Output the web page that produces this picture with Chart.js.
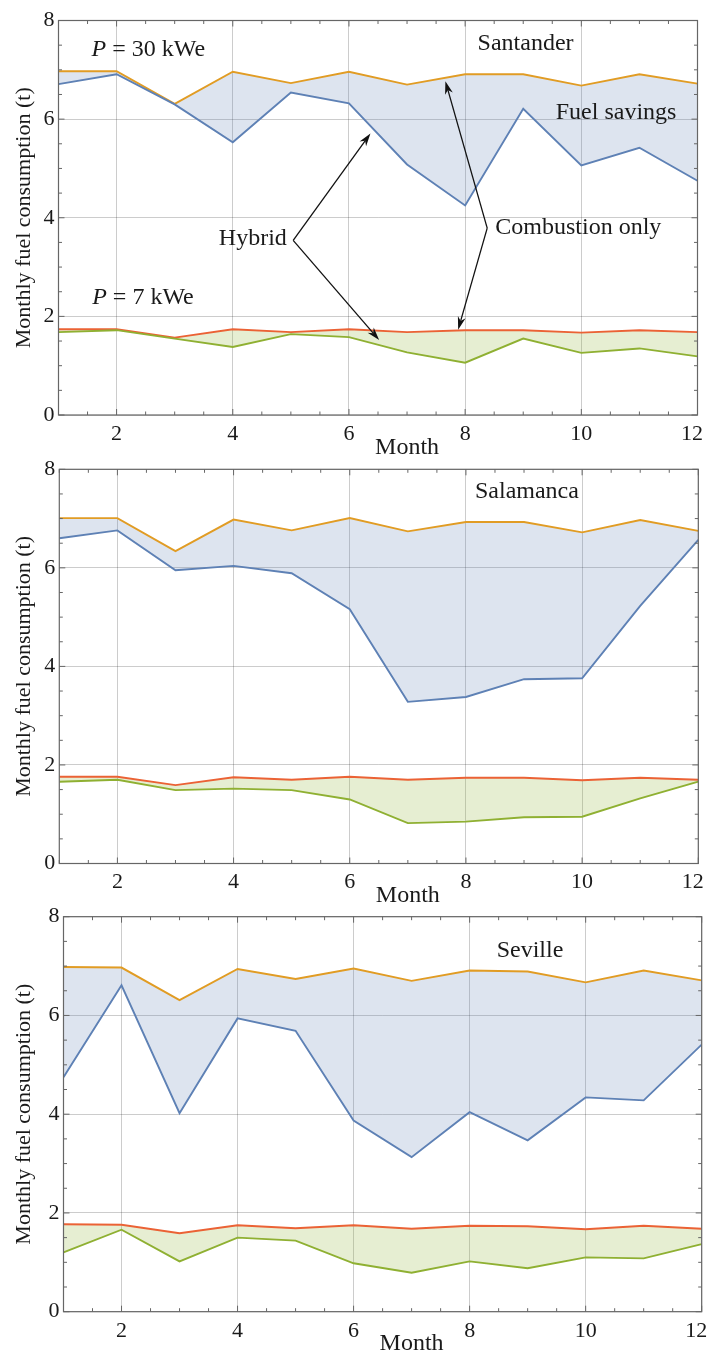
<!DOCTYPE html>
<html>
<head>
<meta charset="utf-8">
<script src="https://cdn.jsdelivr.net/npm/chart.js@4.4.1/dist/chart.umd.min.js"></script>
<style>
    body { margin: 0; background: #fff; width: 707px; height: 1358px; position: relative; overflow: hidden; }
    .panel { position: absolute; left: 0; width: 707px; height: 470px; }
</style>
</head>
<body>
<div class="panel" style="top:0px"><canvas id="santander" width="707" height="470"></canvas></div>
<div class="panel" style="top:450px"><canvas id="salamanca" width="707" height="470"></canvas></div>
<div class="panel" style="top:898px"><canvas id="seville" width="707" height="470"></canvas></div>
<script>
// months and axis ticks
var months = [1, 2, 3, 4, 5, 6, 7, 8, 9, 10, 11, 12];
var xTickValues = [2, 4, 6, 8, 10, 12];
var yTickValues = [0, 2, 4, 6, 8];

// Santander (t per month)
var santanderCombustion30 = [6.97, 6.97, 6.31, 6.96, 6.73, 6.96, 6.70, 6.91, 6.91, 6.68, 6.91, 6.72];
var santanderHybrid30     = [6.71, 6.91, 6.30, 5.53, 6.54, 6.32, 5.08, 4.25, 6.21, 5.06, 5.42, 4.75];
var santanderCombustion7  = [1.74, 1.74, 1.57, 1.74, 1.68, 1.74, 1.68, 1.72, 1.72, 1.67, 1.72, 1.68];
var santanderHybrid7      = [1.68, 1.72, 1.55, 1.38, 1.64, 1.58, 1.27, 1.06, 1.55, 1.26, 1.35, 1.19];

// Salamanca
var salamancaCombustion30 = [7.01, 7.01, 6.34, 6.98, 6.76, 7.01, 6.74, 6.93, 6.93, 6.72, 6.97, 6.75];
var salamancaHybrid30     = [6.60, 6.76, 5.95, 6.04, 5.89, 5.16, 3.28, 3.38, 3.74, 3.76, 5.23, 6.57];
var salamancaCombustion7  = [1.76, 1.76, 1.59, 1.75, 1.70, 1.76, 1.70, 1.74, 1.74, 1.69, 1.74, 1.70];
var salamancaHybrid7      = [1.66, 1.70, 1.49, 1.52, 1.49, 1.30, 0.82, 0.85, 0.94, 0.95, 1.32, 1.66];

// Seville
var sevilleCombustion30 = [6.98, 6.97, 6.31, 6.94, 6.74, 6.95, 6.70, 6.91, 6.89, 6.67, 6.91, 6.71];
var sevilleHybrid30     = [4.75, 6.61, 4.02, 5.94, 5.69, 3.87, 3.13, 4.04, 3.47, 4.34, 4.28, 5.41];
var sevilleCombustion7  = [1.77, 1.76, 1.59, 1.75, 1.69, 1.75, 1.68, 1.74, 1.73, 1.67, 1.74, 1.68];
var sevilleHybrid7      = [1.20, 1.66, 1.02, 1.50, 1.44, 0.98, 0.79, 1.02, 0.88, 1.10, 1.08, 1.37];

var FONT = "'Liberation Serif', 'Times New Roman', serif";
var TEXT = '#1a1a1a';
var FRAME = '#666666';
var GRID = 'rgba(0,0,0,0.2)';
var BLUE = '#5e81b5', ORANGE = '#e19c24', GREEN = '#8fb032', RED = '#eb6235';
var BLUE_FILL = 'rgba(94,129,181,0.21)';
var GREEN_FILL = 'rgba(143,176,50,0.22)';

function points(values) {
    return months.map(function (m, i) { return { x: m, y: values[i] }; });
}

// frame with inward major/minor ticks on all four sides
var framePlugin = {
    id: 'frame',
    afterDatasetsDraw: function (chart) {
        var ctx = chart.ctx, a = chart.chartArea, x = chart.scales.x, y = chart.scales.y;
        ctx.save();
        ctx.strokeStyle = FRAME;
        ctx.lineWidth = 1;
        ctx.beginPath();
        for (var v = x.min; v <= x.max; v += 0.5) {
            var px = x.getPixelForValue(v);
            var len = xTickValues.indexOf(v) >= 0 ? 6 : 3.5;
            ctx.moveTo(px, a.bottom); ctx.lineTo(px, a.bottom - len);
            ctx.moveTo(px, a.top); ctx.lineTo(px, a.top + len);
        }
        for (var w = y.min; w <= y.max; w += 0.5) {
            var py = y.getPixelForValue(w);
            var l2 = yTickValues.indexOf(w) >= 0 ? 6 : 3.5;
            ctx.moveTo(a.left, py); ctx.lineTo(a.left + l2, py);
            ctx.moveTo(a.right, py); ctx.lineTo(a.right - l2, py);
        }
        ctx.stroke();
        ctx.lineWidth = 1.2;
        ctx.strokeRect(a.left, a.top, a.right - a.left, a.bottom - a.top);
        ctx.restore();
    }
};

function drawArrow(ctx, x0, y0, x1, y1) {
    var ang = Math.atan2(y1 - y0, x1 - x0), hl = 13, hw = 4;
    var c = Math.cos(ang), s = Math.sin(ang);
    ctx.beginPath();
    ctx.moveTo(x0, y0);
    ctx.lineTo(x1 - c * hl * 0.7, y1 - s * hl * 0.7);
    ctx.stroke();
    ctx.beginPath();
    ctx.moveTo(x1, y1);
    ctx.lineTo(x1 - c * hl - s * hw, y1 - s * hl + c * hw);
    ctx.lineTo(x1 - c * hl * 0.7, y1 - s * hl * 0.7);
    ctx.lineTo(x1 - c * hl + s * hw, y1 - s * hl - c * hw);
    ctx.closePath();
    ctx.fill();
}

// text labels and arrows placed in data coordinates
function notesPlugin(notes) {
    return {
        id: 'notes',
        afterDraw: function (chart) {
            var ctx = chart.ctx, x = chart.scales.x, y = chart.scales.y, a = chart.chartArea;
            ctx.save();
            ctx.fillStyle = TEXT;
            ctx.strokeStyle = '#111';
            ctx.textBaseline = 'alphabetic';

            // x-axis title
            ctx.font = '24px ' + FONT;
            ctx.textAlign = 'center';
            ctx.fillText('Month', x.getPixelForValue(7), a.bottom + 38.5);

            notes.texts.forEach(function (t) {
                var px = x.getPixelForValue(t.x), py = y.getPixelForValue(t.y);
                var parts = t.parts || [{ s: t.text }];
                var widths = parts.map(function (p) {
                    ctx.font = (p.italic ? 'italic ' : '') + '24px ' + FONT;
                    return ctx.measureText(p.s).width;
                });
                var total = widths.reduce(function (s, w) { return s + w; }, 0);
                var start = t.align === 'center' ? px - total / 2 : (t.align === 'right' ? px - total : px);
                ctx.textAlign = 'left';
                parts.forEach(function (p, i) {
                    ctx.font = (p.italic ? 'italic ' : '') + '24px ' + FONT;
                    ctx.fillText(p.s, start, py);
                    start += widths[i];
                });
            });

            ctx.fillStyle = '#111';
            ctx.lineWidth = 1.3;
            notes.arrows.forEach(function (ar) {
                drawArrow(ctx, x.getPixelForValue(ar[0]), y.getPixelForValue(ar[1]),
                    x.getPixelForValue(ar[2]), y.getPixelForValue(ar[3]));
            });
            ctx.restore();
        }
    };
}

function makePanel(id, combustion30, hybrid30, combustion7, hybrid7, box, notes) {
    var line = { borderWidth: 1.9, pointRadius: 0, tension: 0 };
    return new Chart(document.getElementById(id), {
        type: 'line',
        data: {
            datasets: [
                Object.assign({ label: 'Hybrid 30 kWe', data: points(hybrid30), borderColor: BLUE, fill: false }, line),
                Object.assign({ label: 'Combustion 30 kWe', data: points(combustion30), borderColor: ORANGE,
                    backgroundColor: BLUE_FILL, fill: '-1' }, line),
                Object.assign({ label: 'Hybrid 7 kWe', data: points(hybrid7), borderColor: GREEN, fill: false }, line),
                Object.assign({ label: 'Combustion 7 kWe', data: points(combustion7), borderColor: RED,
                    backgroundColor: GREEN_FILL, fill: '-1' }, line)
            ]
        },
        options: {
            responsive: false,
            animation: false,
            devicePixelRatio: 1,
            layout: { padding: { top: box.top, right: box.right, left: 0, bottom: 0 } },
            plugins: { legend: { display: false }, tooltip: { enabled: false } },
            scales: {
                x: {
                    type: 'linear', min: 1, max: 12,
                    afterBuildTicks: function (s) { s.ticks = xTickValues.map(function (v) { return { value: v }; }); },
                    afterFit: function (s) { s.height = box.xHeight; s.paddingLeft = 0; s.paddingRight = 0; },
                    grid: { color: GRID, drawTicks: false },
                    border: { display: false },
                    ticks: {
                        font: { family: FONT, size: 22 }, color: TEXT, padding: 6, maxRotation: 0, autoSkip: false,
                        // last label nudged inside the frame, as in the original
                        callback: function (v) { return v === 12 ? v + '  ' : '' + v; }
                    }
                },
                y: {
                    min: 0, max: 8,
                    afterBuildTicks: function (s) { s.ticks = yTickValues.map(function (v) { return { value: v }; }); },
                    afterFit: function (s) { s.width = box.yWidth; s.paddingTop = 0; s.paddingBottom = 0; },
                    grid: { color: GRID, drawTicks: false },
                    border: { display: false },
                    ticks: { font: { family: FONT, size: 22 }, color: TEXT, padding: 4 },
                    title: {
                        display: true, text: 'Monthly fuel consumption (t)', color: TEXT,
                        font: { family: FONT, size: 22 }, padding: { top: 11, bottom: 0 }
                    }
                }
            }
        },
        plugins: [framePlugin, notesPlugin(notes)]
    });
}

makePanel('santander', santanderCombustion30, santanderHybrid30, santanderCombustion7, santanderHybrid7,
    { top: 20.5, right: 9.5, yWidth: 58.5, xHeight: 55 },
    {
        texts: [
            { parts: [{ s: 'P', italic: true }, { s: ' = 30 kWe' }], x: 1.57, y: 7.29, align: 'left' },
            { parts: [{ s: 'P', italic: true }, { s: ' = 7 kWe' }], x: 1.58, y: 2.26, align: 'left' },
            { text: 'Santander', x: 9.04, y: 7.40, align: 'center' },
            { text: 'Fuel savings', x: 9.56, y: 6.01, align: 'left' },
            { text: 'Hybrid', x: 4.93, y: 3.44, align: 'right' },
            { text: 'Combustion only', x: 8.52, y: 3.68, align: 'left' }
        ],
        arrows: [
            [5.04, 3.54, 6.37, 5.71],
            [5.04, 3.54, 6.52, 1.52],
            [8.38, 3.79, 7.66, 6.77],
            [8.38, 3.79, 7.88, 1.73]
        ]
    });

makePanel('salamanca', salamancaCombustion30, salamancaHybrid30, salamancaCombustion7, salamancaHybrid7,
    { top: 19.3, right: 8.7, yWidth: 59.3, xHeight: 56.5 },
    { texts: [{ text: 'Salamanca', x: 9.05, y: 7.41, align: 'center' }], arrows: [] });

makePanel('seville', sevilleCombustion30, sevilleHybrid30, sevilleCombustion7, sevilleHybrid7,
    { top: 18.7, right: 5.3, yWidth: 63.5, xHeight: 56.3 },
    { texts: [{ text: 'Seville', x: 9.04, y: 7.19, align: 'center' }], arrows: [] });
</script>
</body>
</html>
